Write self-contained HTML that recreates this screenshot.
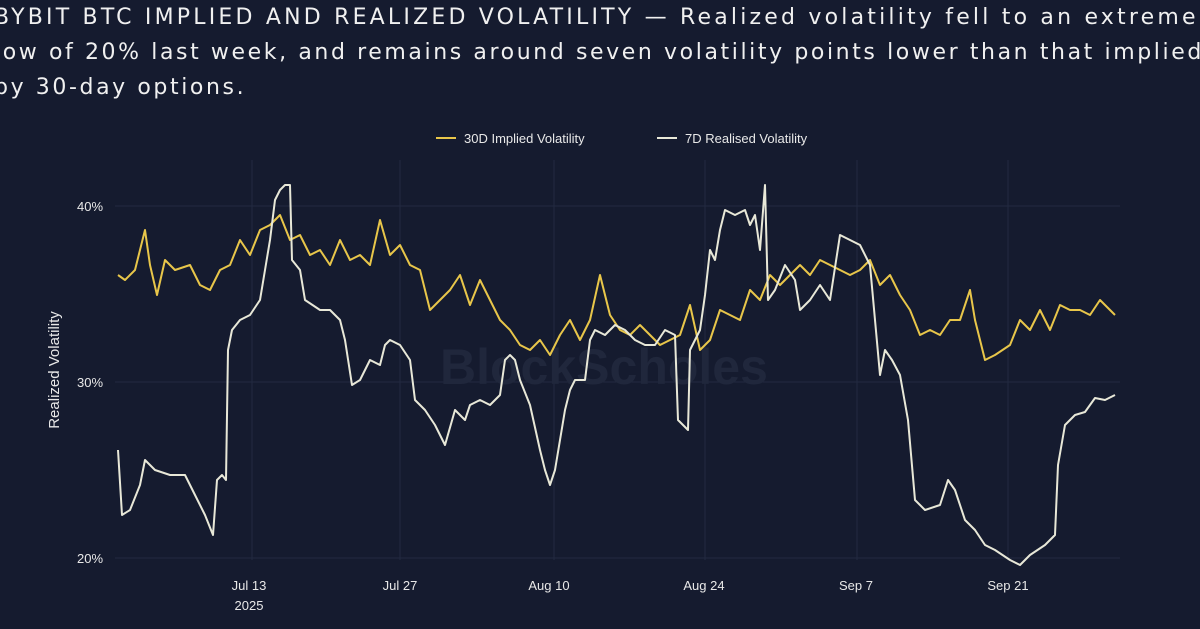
<!DOCTYPE html>
<html><head><meta charset="utf-8"><style>
html,body{margin:0;padding:0;background:#151b2f;width:1200px;height:629px;overflow:hidden;font-family:"Liberation Sans",sans-serif;}
.t{position:absolute;left:-6px;color:#f0f0f0;font-family:"DejaVu Sans",sans-serif;font-size:22px;letter-spacing:2.6px;white-space:nowrap;}
</style></head><body>
<div class="t" style="top:5px;letter-spacing:3.2px">BYBIT BTC IMPLIED AND REALIZED VOLATILITY — Realized volatility fell to an extreme</div>
<div class="t" style="top:40px">low of 20% last week, and remains around seven volatility points lower than that implied</div>
<div class="t" style="top:75px">by 30-day options.</div>
<svg width="1200" height="629" style="position:absolute;left:0;top:0" font-family="Liberation Sans, sans-serif">
<g stroke="#222a40" stroke-width="1">
<line x1="115" y1="206" x2="1120" y2="206"/><line x1="115" y1="382" x2="1120" y2="382"/><line x1="115" y1="558" x2="1120" y2="558"/>
<line x1="252" y1="160" x2="252" y2="560"/><line x1="400" y1="160" x2="400" y2="560"/><line x1="554" y1="160" x2="554" y2="560"/><line x1="705" y1="160" x2="705" y2="560"/><line x1="857" y1="160" x2="857" y2="560"/><line x1="1008" y1="160" x2="1008" y2="560"/>
</g>
<text x="440" y="384" font-size="50" fill="#20273c" font-weight="bold">BlockScholes</text>
<g fill="#e8e8e8" font-size="13">
<text x="77" y="211">40%</text><text x="77" y="387">30%</text><text x="77" y="563">20%</text>
<text x="249" y="590" text-anchor="middle">Jul 13</text><text x="249" y="610" text-anchor="middle">2025</text>
<text x="400" y="590" text-anchor="middle">Jul 27</text><text x="549" y="590" text-anchor="middle">Aug 10</text>
<text x="704" y="590" text-anchor="middle">Aug 24</text><text x="856" y="590" text-anchor="middle">Sep 7</text><text x="1008" y="590" text-anchor="middle">Sep 21</text>
<text transform="translate(59,370) rotate(-90)" text-anchor="middle" font-size="15">Realized Volatility</text>
</g>
<line x1="436" y1="138" x2="456" y2="138" stroke="#e8c64a" stroke-width="2"/>
<text x="464" y="143" fill="#e8e8e8" font-size="13">30D Implied Volatility</text>
<line x1="657" y1="138" x2="677" y2="138" stroke="#e8e8d8" stroke-width="2"/>
<text x="685" y="143" fill="#e8e8e8" font-size="13">7D Realised Volatility</text>
<polyline fill="none" stroke="#e8c64a" stroke-width="2" stroke-linejoin="round" points="118,275 125,280 135,270 145,230 150,265 157,295 165,260 175,270 190,265 200,285 210,290 220,270 230,265 240,240 250,255 260,230 270,225 280,215 290,240 300,235 310,255 320,250 330,265 340,240 350,260 360,255 370,265 380,220 390,255 400,245 410,265 420,270 430,310 440,300 450,290 460,275 470,305 480,280 490,300 500,320 510,330 520,345 530,350 540,340 550,355 560,335 570,320 580,340 590,320 600,275 610,315 620,330 630,335 640,325 660,345 680,335 690,305 700,350 710,340 720,310 740,320 750,290 760,300 770,275 780,285 800,265 810,275 820,260 830,265 840,270 850,275 860,270 870,260 880,285 890,275 900,295 910,310 920,335 930,330 940,335 950,320 960,320 970,290 975,320 985,360 995,355 1010,345 1020,320 1030,330 1040,310 1050,330 1060,305 1070,310 1080,310 1090,315 1100,300 1110,310 1115,315"/>
<polyline fill="none" stroke="#e8e8d8" stroke-width="2" stroke-linejoin="round" points="118,450 122,515 130,510 140,485 145,460 155,470 170,475 185,475 195,495 205,515 213,535 217,480 222,475 226,480 228,350 232,330 240,320 250,315 260,300 265,270 270,240 275,200 280,190 285,185 290,185 292,260 300,270 305,300 320,310 330,310 340,320 345,340 352,385 360,380 370,360 380,365 385,345 390,340 400,345 410,360 415,400 425,410 435,425 445,445 455,410 465,420 470,405 480,400 490,405 500,395 505,360 510,355 515,360 520,380 530,405 540,450 545,470 550,485 555,470 560,440 565,410 570,390 575,380 585,380 590,340 595,330 605,335 615,325 625,330 635,340 645,345 655,345 665,330 675,335 678,420 688,430 690,350 700,330 705,295 710,250 715,260 720,230 725,210 735,215 745,210 750,225 755,215 760,250 765,185 768,300 775,290 785,265 795,280 800,310 810,300 820,285 830,300 840,235 850,240 860,245 870,265 875,320 880,375 885,350 892,360 900,375 908,420 915,500 925,510 940,505 948,480 955,490 965,520 975,530 985,545 995,550 1010,560 1020,565 1030,555 1045,545 1055,535 1058,465 1065,425 1075,415 1085,412 1095,398 1105,400 1115,395"/>
</svg>
</body></html>
